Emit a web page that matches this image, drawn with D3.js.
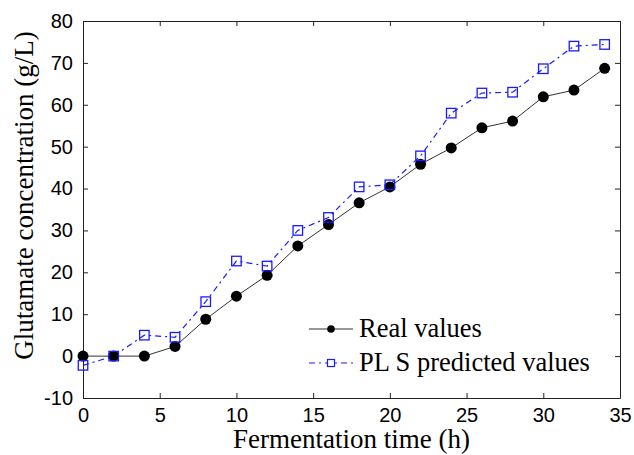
<!DOCTYPE html>
<html>
<head>
<meta charset="utf-8">
<script src="https://cdn.jsdelivr.net/npm/d3@7"></script>
<style>
  body { margin: 0; background: #fff; }
</style>
</head>
<body>
<div id="chart"></div>
<script>
// Data
const hours = [0, 2, 4, 6, 8, 10, 12, 14, 16, 18, 20, 22, 24, 26, 28, 30, 32, 34];
const realValues = [0, 0, 0, 2.3, 8.8, 14.3, 19.3, 26.3, 31.4, 36.6, 40.4, 45.8, 49.7, 54.5, 56.1, 61.9, 63.5, 68.7];
const plsValues = [-2.2, 0, 5.0, 4.5, 13.0, 22.7, 21.5, 30.0, 33.1, 40.4, 40.9, 47.8, 58.0, 62.8, 63.0, 68.6, 74.0, 74.4];
const xTicks = [0, 5, 10, 15, 20, 25, 30, 35];
const yTicks = [-10, 0, 10, 20, 30, 40, 50, 60, 70, 80];
const seriesNames = ['Real values', 'PL S predicted values'];

const W = 634, H = 455;
const margin = { top: 21, right: 14, bottom: 57, left: 83 };
const width = W - margin.left - margin.right;
const height = H - margin.top - margin.bottom;

const svg = d3.select('#chart')
    .append('svg')
    .attr('width', W)
    .attr('height', H);

const g = svg.append('g')
    .attr('transform', `translate(${margin.left},${margin.top})`);

const x = d3.scaleLinear().domain([0, 35]).range([0, width]);
const y = d3.scaleLinear().domain([-10, 80]).range([height, 0]);

const tickFont = '"Liberation Sans", Arial, sans-serif';
const serif = '"Liberation Serif", "Times New Roman", serif';
const plain = d => String(d); // keep the ASCII hyphen for -10

// Axes with inward ticks, box on all sides
function styleAxis(sel) {
    sel.select('.domain').attr('stroke', '#222').attr('stroke-width', 1);
    sel.selectAll('.tick line').attr('stroke', '#222');
    sel.selectAll('text').attr('font-family', tickFont).attr('font-size', '20px').attr('fill', '#000');
}

g.append('g')
    .attr('transform', `translate(0,${height})`)
    .call(d3.axisBottom(x).tickValues(xTicks).tickFormat(plain).tickSizeInner(-5).tickSizeOuter(0).tickPadding(10))
    .call(styleAxis);

g.append('g')
    .call(d3.axisTop(x).tickValues(xTicks).tickSizeInner(-5).tickSizeOuter(0).tickFormat(''))
    .call(styleAxis);

g.append('g')
    .call(d3.axisLeft(y).tickValues(yTicks).tickFormat(plain).tickSizeInner(-5).tickSizeOuter(0).tickPadding(10))
    .call(styleAxis);

g.append('g')
    .attr('transform', `translate(${width},0)`)
    .call(d3.axisRight(y).tickValues(yTicks).tickSizeInner(-5).tickSizeOuter(0).tickFormat(''))
    .call(styleAxis);

// Axis titles
g.append('text')
    .attr('x', width / 2)
    .attr('y', height + 50)
    .attr('text-anchor', 'middle')
    .attr('font-family', serif)
    .attr('font-size', '27px')
    .attr('fill', '#000')
    .text('Fermentation time (h)');

g.append('text')
    .attr('transform', 'rotate(-90)')
    .attr('x', -height / 2 + 14)
    .attr('y', -50)
    .attr('text-anchor', 'middle')
    .attr('font-family', serif)
    .attr('font-size', '27px')
    .attr('fill', '#000')
    .text('Glutamate concentration (g/L)');

const plsData = hours.map((h, i) => ({ h, v: plsValues[i] }));
const realData = hours.map((h, i) => ({ h, v: realValues[i] }));

const line = d3.line().x(d => x(d.h)).y(d => y(d.v));

// PLS predicted series (dash-dot, blue squares)
g.append('path')
    .datum(plsData)
    .attr('fill', 'none')
    .attr('stroke', '#1a1aff')
    .attr('stroke-width', 1.2)
    .attr('stroke-dasharray', '6,4,2,4')
    .attr('d', line);

// Real series (solid, black dots)
g.append('path')
    .datum(realData)
    .attr('fill', 'none')
    .attr('stroke', '#333')
    .attr('stroke-width', 1)
    .attr('d', line);

g.selectAll('circle.real')
    .data(realData)
    .enter()
    .append('circle')
    .attr('class', 'real')
    .attr('cx', d => x(d.h))
    .attr('cy', d => y(d.v))
    .attr('r', 5.5)
    .attr('fill', '#000');

const sq = 9.5;
g.selectAll('rect.pls')
    .data(plsData)
    .enter()
    .append('rect')
    .attr('class', 'pls')
    .attr('x', d => x(d.h) - sq / 2)
    .attr('y', d => y(d.v) - sq / 2)
    .attr('width', sq)
    .attr('height', sq)
    .attr('fill', 'none')
    .attr('stroke', '#1a1aff')
    .attr('stroke-width', 1.3);

// Legend
const legend = svg.append('g')
    .attr('transform', 'translate(309, 329)');

seriesNames.forEach((name, i) => {
    const row = legend.append('g')
        .attr('transform', `translate(0, ${i * 34})`);

    row.append('line')
        .attr('x1', 0)
        .attr('x2', 44)
        .attr('stroke', i === 0 ? '#333' : '#1a1aff')
        .attr('stroke-width', 1.2)
        .attr('stroke-dasharray', i === 0 ? null : '6,4,2,4');

    if (i === 0) {
        row.append('circle')
            .attr('cx', 22)
            .attr('r', 3.8)
            .attr('fill', '#000');
    } else {
        row.append('rect')
            .attr('x', 18.5)
            .attr('y', -3.5)
            .attr('width', 7)
            .attr('height', 7)
            .attr('fill', '#fff')
            .attr('stroke', '#1a1aff')
            .attr('stroke-width', 1.2);
    }

    row.append('text')
        .attr('x', 50)
        .attr('y', 8)
        .attr('font-family', serif)
        .attr('font-size', '26.5px')
        .attr('fill', '#000')
        .text(name);
});
</script>
</body>
</html>
